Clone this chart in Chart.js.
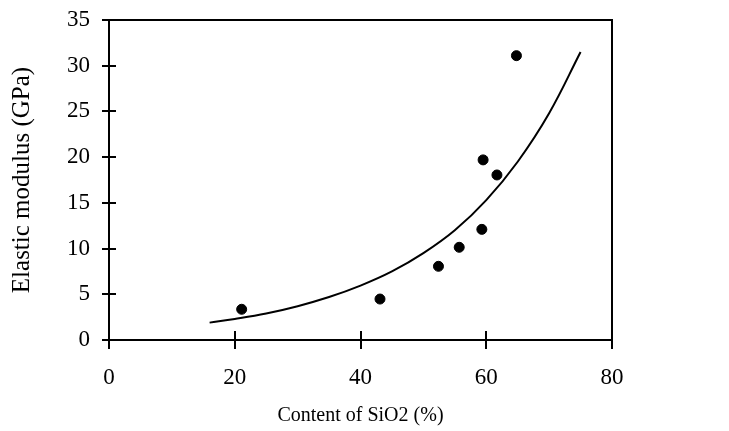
<!DOCTYPE html>
<html><head><meta charset="utf-8">
<script src="https://cdn.jsdelivr.net/npm/chart.js@4.4.0/dist/chart.umd.min.js"></script>
<style>html,body{margin:0;padding:0;background:#fff}#wrap{width:729px;height:431px}</style>
</head><body><div id="wrap"><canvas id="c" width="729" height="431"></canvas></div>
<script>
const sio2 = [21.1, 43.1, 52.4, 55.7, 59.3, 59.5, 61.7, 64.8];
const modulus = [3.36, 4.48, 8.06, 10.14, 12.1, 19.7, 18.05, 31.1];
const trendX = [16, 20, 25, 30, 35, 40, 45, 50, 55, 60, 65, 70, 75];
const trendY = [1.9, 2.3, 2.9, 3.7, 4.7, 5.95, 7.5, 9.5, 12.0, 15.3, 19.5, 24.8, 31.5];
const xTicks = [0, 20, 40, 60, 80];
const yTicks = [0, 5, 10, 15, 20, 25, 30, 35];

const FONT = 'Liberation Serif, Times New Roman, serif';

const framePlugin = {
  id: 'frame',
  afterDraw(chart) {
    const {ctx, chartArea: a, scales: {x, y}} = chart;
    ctx.save();
    ctx.strokeStyle = '#000';
    ctx.lineWidth = 2;
    ctx.strokeRect(a.left, a.top, a.right - a.left, a.bottom - a.top);
    ctx.beginPath();
    yTicks.forEach(v => { const p = Math.round(y.getPixelForValue(v)); ctx.moveTo(a.left - 7, p); ctx.lineTo(a.left + 7, p); });
    xTicks.forEach(v => { const p = Math.round(x.getPixelForValue(v)); ctx.moveTo(p, a.bottom - 9); ctx.lineTo(p, a.bottom + 9); });
    ctx.stroke();
    ctx.restore();
  }
};

new Chart(document.getElementById('c'), {
  type: 'scatter',
  data: {
    datasets: [
      { label: 'data', data: sio2.map((v, i) => ({x: v, y: modulus[i]})), backgroundColor: '#000', borderColor: '#000', pointRadius: 5, pointHoverRadius: 5 },
      { label: 'trend', type: 'line', data: trendX.map((v, i) => ({x: v, y: trendY[i]})), borderColor: '#000', borderWidth: 2, pointRadius: 0, fill: false, tension: 0.4 }
    ]
  },
  options: {
    responsive: false,
    animation: false,
    devicePixelRatio: 1,
    layout: { padding: { left: 0, right: 117, top: 20, bottom: 0 } },
    plugins: { legend: { display: false }, tooltip: { enabled: false } },
    scales: {
      x: {
        type: 'linear', min: 0, max: 80,
        afterBuildTicks: s => { s.ticks = xTicks.map(v => ({value: v})); },
        afterFit: s => { s.height = 91; s.paddingLeft = 0; s.paddingRight = 0; },
        grid: { drawOnChartArea: false, drawTicks: false },
        border: { display: false },
        ticks: { color: '#000', font: { family: FONT, size: 23 }, padding: 24, maxRotation: 0 },
        title: { display: true, text: 'Content of SiO2 (%)', color: '#000', font: { family: FONT, size: 20 }, padding: { top: 0, bottom: 3 } }
      },
      y: {
        type: 'linear', min: 0, max: 35,
        afterBuildTicks: s => { s.ticks = yTicks.map(v => ({value: v})); },
        afterFit: s => { s.width = 109; s.paddingTop = 0; s.paddingBottom = 0; },
        grid: { drawOnChartArea: false, drawTicks: false },
        border: { display: false },
        ticks: { color: '#000', font: { family: FONT, size: 23 }, padding: 19 },
        title: { display: true, text: 'Elastic modulus (GPa)', color: '#000', font: { family: FONT, size: 25 }, padding: { top: 7, bottom: 0 } }
      }
    }
  },
  plugins: [framePlugin]
});
</script></body></html>
